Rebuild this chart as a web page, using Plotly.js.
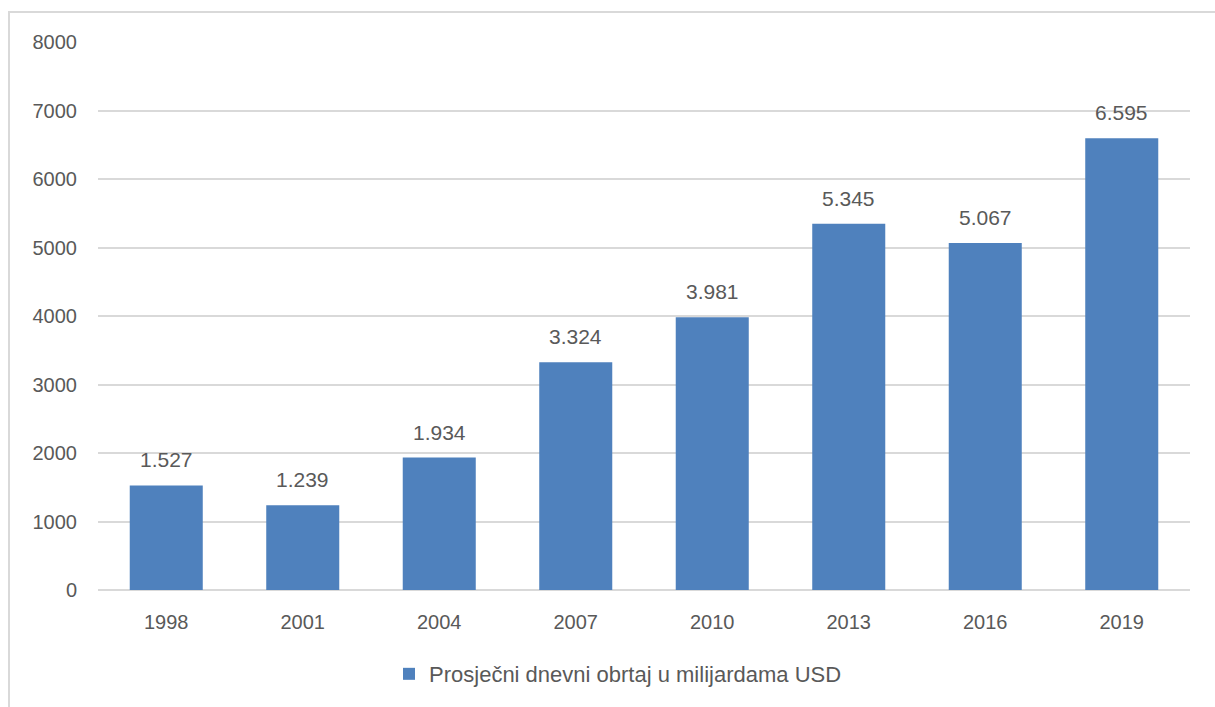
<!DOCTYPE html>
<html>
<head>
<meta charset="utf-8">
<script src="https://cdn.plot.ly/plotly-3.0.1.min.js"></script>
<style>html,body{margin:0;padding:0;background:#fff;}#chart{width:1215px;height:707px;}</style>
</head>
<body>
<div id="chart"></div>
<script>
const years = ['1998','2001','2004','2007','2010','2013','2016','2019'];
const turnover = [1527, 1239, 1934, 3324, 3981, 5345, 5067, 6595];
const yTicks = [0,1000,2000,3000,4000,5000,6000,7000,8000];
const seriesName = 'Prosječni dnevni obrtaj u milijardama USD';

const fontFam = 'Liberation Sans, Arial, sans-serif';
const grey = '#595959';
const fmt = v => v.toLocaleString('de-DE');

const trace = {
  type: 'bar',
  x: years,
  y: turnover,
  name: seriesName,
  marker: {color: '#4F81BD'},
  hoverinfo: 'x+y'
};

const annotations = years.map((yr, i) => ({
  x: i, y: turnover[i], xref: 'x', yref: 'y',
  text: fmt(turnover[i]), showarrow: false,
  yanchor: 'bottom', yshift: 12,
  font: {family: fontFam, size: 21, color: grey}
}));

const layout = {
  width: 1215, height: 707,
  margin: {l: 98, r: 25, t: 42, b: 117},
  paper_bgcolor: '#fff', plot_bgcolor: '#fff',
  separators: ',.',
  bargap: 0.465,
  showlegend: true,
  legend: {
    orientation: 'h', x: 0.2665, xanchor: 'left', y: -0.115, yanchor: 'top',
    font: {family: fontFam, size: 22, color: grey}
  },
  xaxis: {
    type: 'category',
    range: [-0.5, years.length - 0.5],
    tickfont: {family: fontFam, size: 20, color: grey},
    showline: false, ticks: '', showgrid: false,
    ticklabelstandoff: 18
  },
  yaxis: {
    range: [0, 8000],
    tickvals: yTicks, ticktext: yTicks.map(String),
    tickfont: {family: fontFam, size: 20, color: grey},
    gridcolor: '#d9d9d9', gridwidth: 1.5,
    zeroline: true, zerolinecolor: '#d9d9d9', zerolinewidth: 1.5,
    ticks: '', ticklen: 0, automargin: false,
    ticklabelstandoff: 20
  },
  annotations: annotations,
  shapes: [{
    type: 'rect', xref: 'paper', yref: 'paper',
    x0: -0.0815, x1: 1.2, y0: -0.6, y1: 1.0547,
    line: {color: '#d9d9d9', width: 2}, fillcolor: 'rgba(0,0,0,0)', layer: 'below'
  }]
};

Plotly.newPlot('chart', [trace], layout, {displayModeBar: false});
</script>
</body>
</html>
